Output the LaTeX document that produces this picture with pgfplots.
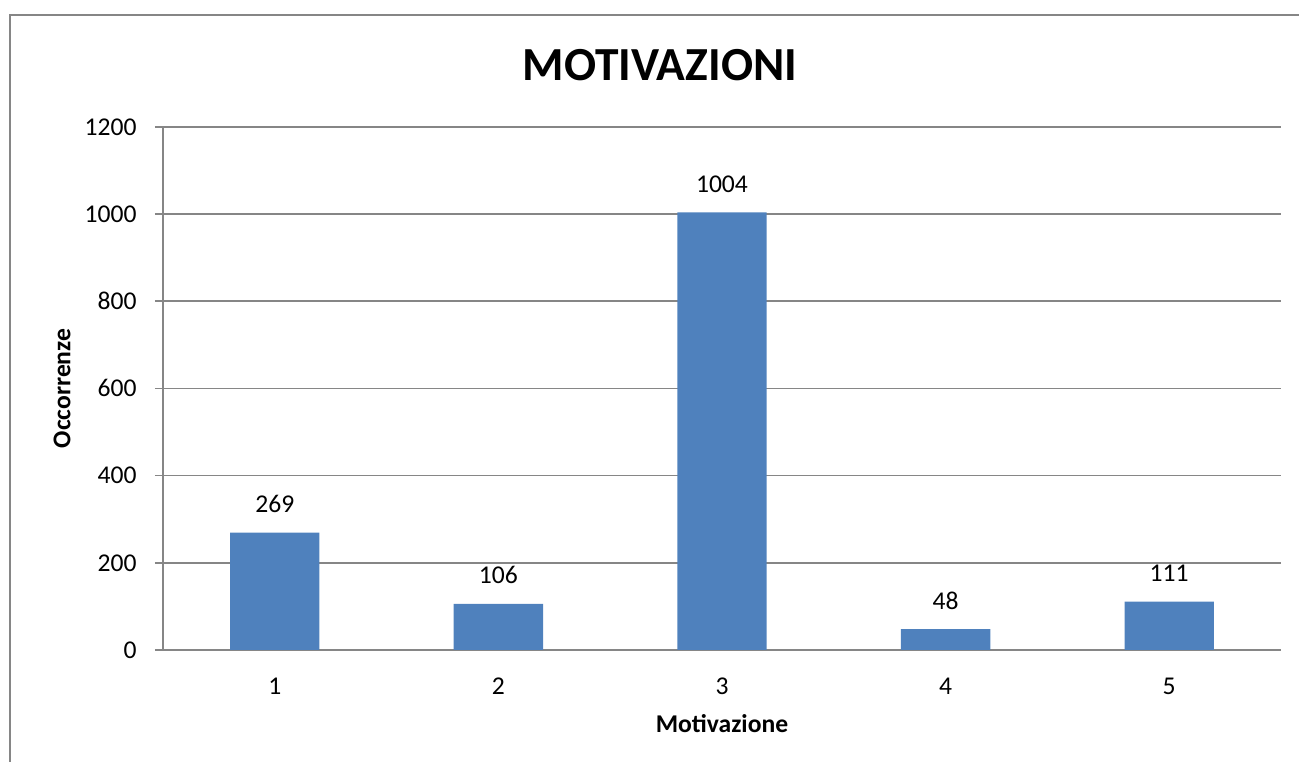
\documentclass[border=0pt]{standalone}
\usepackage{pgfplots}
\pgfplotsset{compat=1.18}
\usepackage{fontspec}
\setmainfont{Carlito}
\definecolor{barblue}{HTML}{4F81BD}
\definecolor{axgray}{HTML}{868686}
\begin{document}
\begin{tikzpicture}
\path[use as bounding box] (0,0) rectangle (487.125pt,-285.75pt);
\draw[axgray, line width=0.6pt] (3.75pt,-290pt) -- (3.75pt,-5.625pt) -- (490pt,-5.625pt);
\begin{axis}[
  at={(61.125pt,-243.75pt)}, anchor=south west,
  scale only axis, width=419.25pt, height=196.2pt,
  xmin=0.5, xmax=5.5, ymin=0, ymax=1200,
  axis x line*=bottom, axis y line*=left,
  axis line style={axgray, line width=0.6pt},
  ybar, bar width=33.5pt,
  xtick={1,2,3,4,5}, xticklabels={1,2,3,4,5},
  xtick style={draw=none},
  minor xtick={0.5,1.5,2.5,3.5,4.5,5.5},
  minor tick length=3pt, major tick length=3pt,
  tick align=outside,
  minor x tick style={axgray, line width=0.6pt},
  ytick={0,200,400,600,800,1000,1200},
  ytick style={axgray, line width=0.6pt},
  ymajorgrids, major grid style={axgray, line width=0.6pt},
  /pgf/number format/assume math mode=true,
  /pgf/number format/1000 sep={},
  tick label style={font=\fontsize{9.6}{11}\selectfont, black},
  xticklabel style={yshift=-3.9pt},
  yticklabel style={xshift=-3.4pt},
  every axis title shift=0pt,
  title={MOTIVAZIONI},
  title style={at={(axis description cs:0.4445,1.0892)}, anchor=base, font=\fontsize{17.8}{20}\selectfont\bfseries},
  xlabel={Motivazione},
  xlabel style={at={(axis description cs:0.5,0)}, anchor=base, yshift=-31.1pt, font=\fontsize{9.6}{11}\selectfont\bfseries},
  ylabel={Occorrenze},
  ylabel style={at={(axis description cs:-0.0903,0.5)}, anchor=center, font=\fontsize{9.6}{11}\selectfont\bfseries},
  nodes near coords,
  every node near coord/.append style={font=\fontsize{9.6}{11}\selectfont, black, yshift=3.9pt},
]
\addplot[fill=barblue, draw=none] coordinates {(1,269) (2,106) (3,1004) (4,48) (5,111)};
\end{axis}
\end{tikzpicture}
\end{document}
